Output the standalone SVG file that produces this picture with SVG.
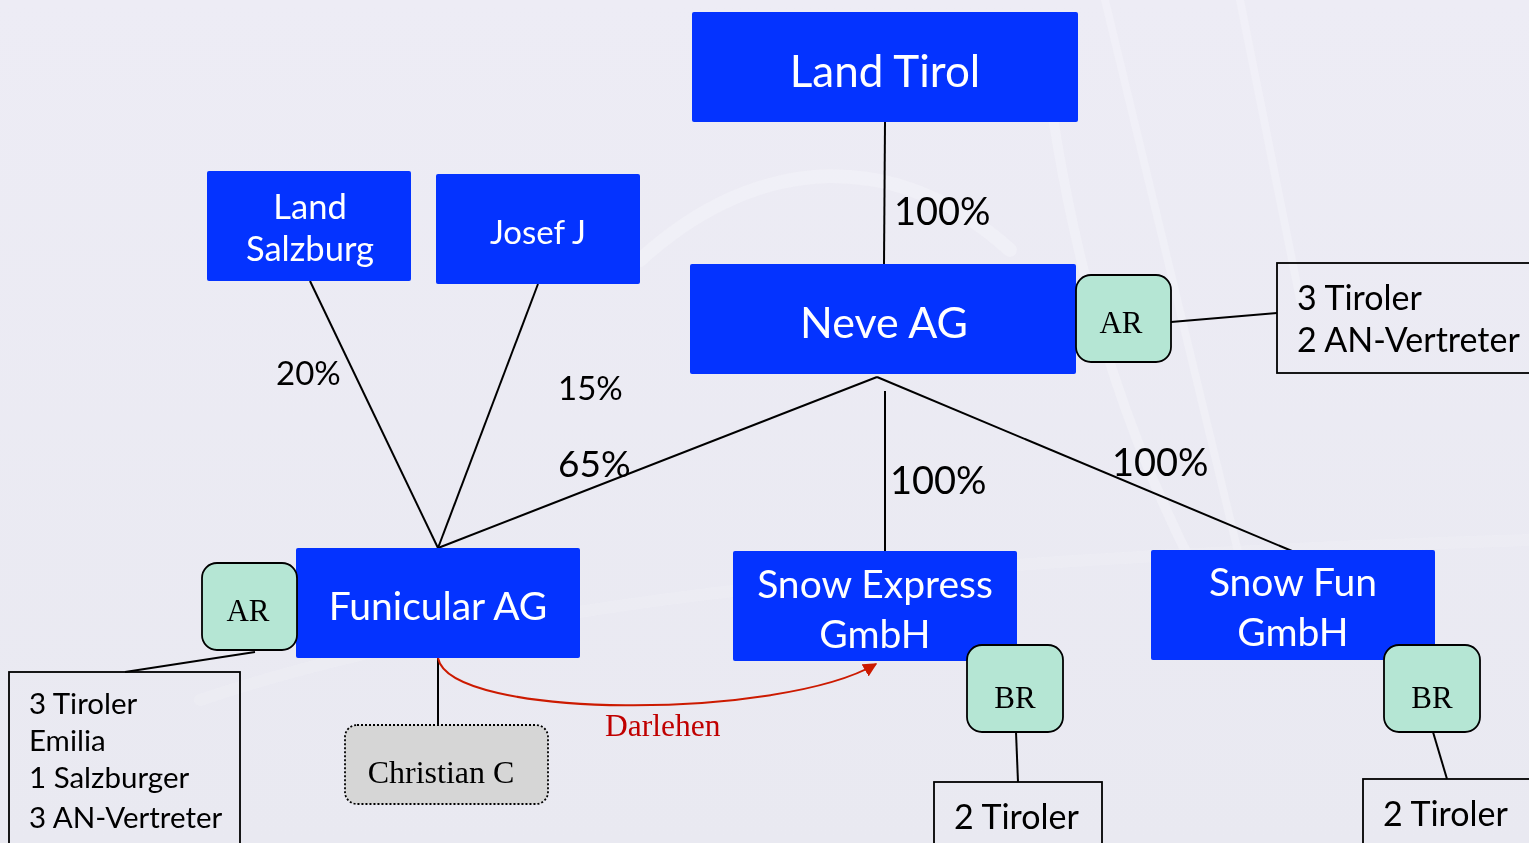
<svg xmlns="http://www.w3.org/2000/svg" width="1529" height="843" viewBox="0 0 1529 843">
<defs>
<style>
.blue{fill:#0433FF;}
.wt{fill:#fff;font-family:Lato,"Open Sans",sans-serif;text-anchor:middle;}
.lbl{fill:#000;font-family:Lato,"Open Sans",sans-serif;}
.ar{fill:#B5E6D4;stroke:#000;stroke-width:1.8;}
.art{fill:#000;font-family:"Liberation Serif",serif;text-anchor:middle;}
.box{fill:none;stroke:#000;stroke-width:1.8;}
.bt{fill:#000;font-family:Lato,"Open Sans",sans-serif;}
.ln{stroke:#000;stroke-width:2;fill:none;}
</style>
<linearGradient id="bg" x1="0" y1="0" x2="0" y2="1">
<stop offset="0" stop-color="#EDECF5"/>
<stop offset="1" stop-color="#E9E9F1"/>
</linearGradient>
<marker id="redArrow" viewBox="0 0 10 10" refX="9" refY="5" markerWidth="14" markerHeight="14" markerUnits="userSpaceOnUse" orient="auto">
<path d="M0,0 L10,5 L0,10 z" fill="#CC1A00"/>
</marker>
</defs>
<rect width="1529" height="843" fill="url(#bg)"/>
<g opacity="0.3" fill="none" stroke="#FAFAFD" stroke-linecap="round">
<path d="M1040,20 C1060,200 1100,380 1190,560" stroke-width="10"/>
<path d="M1105,0 L1240,560" stroke-width="8"/>
<path d="M1240,0 L1300,300" stroke-width="8"/>
<path d="M640,260 C760,150 900,150 1010,250" stroke-width="14"/>
<path d="M200,700 C500,600 900,560 1529,540" stroke-width="12" opacity="0.6"/>
</g>

<g id="connectors">
<line class="ln" x1="885" y1="122" x2="884" y2="264"/>
<line class="ln" x1="310" y1="281" x2="438" y2="548"/>
<line class="ln" x1="538" y1="284" x2="438" y2="548"/>
<line class="ln" x1="877" y1="377" x2="438" y2="548"/>
<line class="ln" x1="877" y1="377" x2="1292" y2="551"/>
<line class="ln" x1="885" y1="391" x2="885" y2="551"/>
<line class="ln" x1="1171" y1="322" x2="1277" y2="313"/>
<line class="ln" x1="255" y1="652" x2="125" y2="672"/>
<line class="ln" x1="438" y1="658" x2="438" y2="725"/>
<line class="ln" x1="1016" y1="732" x2="1018" y2="782"/>
<line class="ln" x1="1433" y1="732" x2="1447" y2="779"/>
<path d="M438,658 C450,720 780,720 876,664" fill="none" stroke="#CC1A00" stroke-width="2" marker-end="url(#redArrow)"/>
<text class="lbl" x="894" y="225" style="font-size:38px">100%</text>
<text class="lbl" x="276" y="385" style="font-size:33px">20%</text>
<text class="lbl" x="558" y="400" style="font-size:33px">15%</text>
<text class="lbl" x="558" y="477" style="font-size:37px">65%</text>
<text class="lbl" x="890" y="494" style="font-size:38px">100%</text>
<text class="lbl" x="1112" y="476" style="font-size:38px">100%</text>
<text x="605" y="736" font-family="Liberation Serif,serif" font-size="31.5" fill="#C00000">Darlehen</text>
</g>

<g id="land-tirol">
<rect class="blue" x="692" y="12" width="386" height="110" rx="2"/>
<text class="wt" x="885" y="87" font-size="44">Land Tirol</text>
</g>
<g id="neve-ag">
<rect class="blue" x="690" y="264" width="386" height="110" rx="2"/>
<text class="wt" x="884" y="338" font-size="43">Neve AG</text>
</g>
<g id="land-salzburg">
<rect class="blue" x="207" y="171" width="204" height="110" rx="2"/>
<text class="wt" x="310" y="219" font-size="34.5">Land</text>
<text class="wt" x="310" y="261" font-size="34.5">Salzburg</text>
</g>
<g id="josef-j">
<rect class="blue" x="436" y="174" width="204" height="110" rx="2"/>
<text class="wt" x="538" y="244" font-size="33">Josef J</text>
</g>
<g id="funicular-ag">
<rect class="blue" x="296" y="548" width="284" height="110" rx="2"/>
<text class="wt" x="438" y="620" font-size="39">Funicular AG</text>
</g>
<g id="snow-express">
<rect class="blue" x="733" y="551" width="284" height="110" rx="2"/>
<text class="wt" x="875" y="598" font-size="39">Snow Express</text>
<text class="wt" x="875" y="648" font-size="39">GmbH</text>
</g>
<g id="snow-fun">
<rect class="blue" x="1151" y="550" width="284" height="110" rx="2"/>
<text class="wt" x="1293" y="596" font-size="39">Snow Fun</text>
<text class="wt" x="1293" y="646" font-size="39">GmbH</text>
</g>

<g id="ar-neve">
<rect class="ar" x="1076" y="275" width="95" height="87" rx="15"/>
<text class="art" x="1121" y="333" font-size="31">AR</text>
</g>
<g id="ar-neve-members">
<rect class="box" x="1277" y="263" width="260" height="110"/>
<text class="bt" x="1297" y="310" font-size="34">3 Tiroler</text>
<text class="bt" x="1297" y="352" font-size="34">2 AN-Vertreter</text>
</g>
<g id="ar-funicular">
<rect class="ar" x="202" y="563" width="95" height="87" rx="15"/>
<text class="art" x="248" y="621" font-size="31">AR</text>
</g>
<g id="ar-funicular-members">
<rect class="box" x="9" y="672" width="231" height="180"/>
<text class="bt" x="29" y="714" font-size="29.5">3 Tiroler</text>
<text class="bt" x="29" y="751" font-size="29.5">Emilia</text>
<text class="bt" x="29" y="788" font-size="29.5">1 Salzburger</text>
<text class="bt" x="29" y="828" font-size="29.5">3 AN-Vertreter</text>
</g>
<g id="christian-c">
<rect x="345" y="725" width="203" height="79" rx="12" fill="#D6D6D6" stroke="#000" stroke-width="1.8" stroke-dasharray="2,2"/>
<text class="art" x="441" y="783" font-size="32">Christian C</text>
</g>
<g id="br-express">
<rect class="ar" x="967" y="645" width="96" height="87" rx="15"/>
<text class="art" x="1015" y="708" font-size="31">BR</text>
</g>
<g id="br-express-members">
<rect class="box" x="934" y="782" width="168" height="80"/>
<text class="bt" x="954" y="829" font-size="34">2 Tiroler</text>
</g>
<g id="br-fun">
<rect class="ar" x="1384" y="645" width="96" height="87" rx="15"/>
<text class="art" x="1432" y="708" font-size="31">BR</text>
</g>
<g id="br-fun-members">
<rect class="box" x="1363" y="779" width="180" height="80"/>
<text class="bt" x="1383" y="826" font-size="34">2 Tiroler</text>
</g>
</svg>
